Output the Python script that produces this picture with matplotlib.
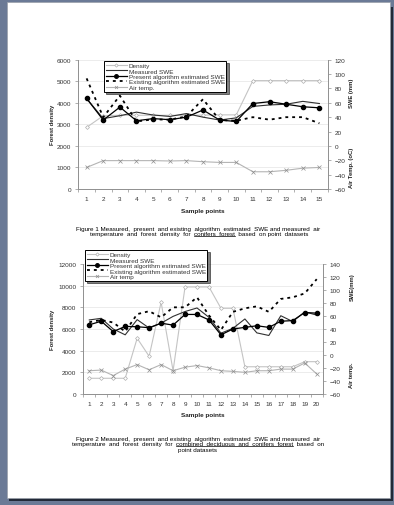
import matplotlib
matplotlib.use("Agg")
import matplotlib.pyplot as plt
from matplotlib.patches import Rectangle
from matplotlib.lines import Line2D
from matplotlib.ticker import MultipleLocator

plt.rcParams['font.family'] = ['Liberation Sans', 'DejaVu Sans']

W, H = 394, 506

# ---------- Figure 1 data (conifers forest) ----------
pts1 = list(range(1, 16))
density1 = [2860, 3400, 3420, 3420, 3420, 3420, 3420, 3430, 3440, 3440, 5030, 5030, 5030, 5030, 5030]
measured1 = [66, 38, 42, 47, 43, 41, 45, 40, 36, 39, 55, 57, 58, 62, 59]
present1 = [66, 36, 54, 35, 38, 36.5, 40, 50, 36, 34, 59, 61.5, 58, 54.5, 53]
existing1 = [94, 40, 70, 34, 37, 36.5, 41, 65, 36, 35, 40, 36.5, 40, 40, 31.5]
airtemp1 = [-30, -20.5, -20.5, -20.5, -20.5, -21, -20.5, -22, -23, -23, -36, -36, -34, -31, -30]

# ---------- Figure 2 data (combined deciduous and conifers forest) ----------
pts2 = list(range(1, 21))
density2 = [1430, 1430, 1430, 1430, 5140, 3470, 8480, 2130, 9900, 9900,
            9900, 7920, 7920, 2500, 2500, 2500, 2500, 2500, 2970, 2970]
measured2 = [54, 56.5, 40, 31, 54.5, 41.5, 49, 59.5, 67, 72.5,
             58, 33.5, 41, 55.5, 34, 30, 60.5, 51.5, 66.5, 61.5]
present2 = [46.5, 52, 36, 44, 43.5, 42, 49, 46, 62.5, 62.5,
            54, 31, 40, 42.5, 45, 42.5, 52, 53, 65.5, 64.5]
existing2 = [50.5, 54, 50, 36, 63, 67.5, 58, 73.5, 73.5, 89,
             61, 38.5, 66.5, 72, 75, 66.5, 86.5, 89, 95, 117]
airtemp2 = [-24.5, -23.5, -32, -22, -15, -23, -15, -24.5, -19, -16.5,
            -20, -24.5, -25.5, -27, -24.5, -24.5, -22, -22, -12.5, -29.5]

labels = ["Density", "Measured SWE", "Present algorithm estimated SWE",
          "Existing algorithm estimated SWE", "Air temp."]


def fx(x):
    return x / W


def fy(y):
    return 1 - y / H


def draw_chart(fig, rect, pts, density, measured, present, existing, airtemp,
               left_max, left_step, right_max, leg_anchor, leg_labels):
    ax = fig.add_axes(rect)
    ax2 = ax.twinx()

    l_den, = ax.plot(pts, density, color="#c4c4c4", lw=0.8, marker="D", ms=2,
                     mfc="white", mec="#b0b0b0", mew=0.5)
    l_mea, = ax2.plot(pts, measured, color="#303030", lw=0.8)
    l_pre, = ax2.plot(pts, present, color="black", lw=0.9, marker="o", ms=3.0)
    l_exi, = ax2.plot(pts, existing, color="black", lw=1.3, ls=(0, (1.6, 2.2)))
    l_air, = ax2.plot(pts, airtemp, color="#b4b4b4", lw=0.8, marker="x", ms=2.5,
                      mec="#909090", mew=0.5)

    n = len(pts)
    ax.set_xlim(0.5, n + 0.5)
    ax.set_ylim(0, left_max)
    ax2.set_ylim(-60, right_max)
    ax.yaxis.set_major_locator(MultipleLocator(left_step))
    ax2.yaxis.set_major_locator(MultipleLocator(20))
    ax.set_xticks(pts)
    ax.set_xticks([p + 0.5 for p in [0] + pts], minor=True)
    ax.grid(axis="y", color="#e4e4e4", lw=0.5)
    ax.set_axisbelow(True)

    for a in (ax, ax2):
        a.tick_params(labelsize=4.6, colors="#909090", labelcolor="#333333",
                      length=2, width=0.5, pad=3)
        for s in a.spines.values():
            s.set_color("#909090")
            s.set_linewidth(0.6)
        a.spines["top"].set_visible(False)
    ax.tick_params(axis="x", which="major", length=0, pad=5)
    ax.tick_params(axis="x", which="minor", length=2, width=0.5, colors="#909090")

    leg = ax2.legend([l_den, l_mea, l_pre, l_exi, l_air], leg_labels,
                     loc="upper left", bbox_to_anchor=leg_anchor, fontsize=4.6,
                     frameon=True, fancybox=False, shadow={"color": "black", "ox": 1.5, "oy": -1.5},
                     borderpad=0.25, labelspacing=0.0, handlelength=3.3,
                     handletextpad=0.3, borderaxespad=0, markerscale=0.85)
    leg.get_frame().set_edgecolor("black")
    leg.get_frame().set_linewidth(0.7)
    for t in leg.get_texts():
        t.set_color("#333333")
    return ax, ax2


def underline(fig, txt, prefix, word):
    r = fig.canvas.get_renderer()
    bb = txt.get_window_extent(r)
    tmp = fig.text(0, 0, prefix, fontsize=txt.get_fontsize(), fontweight=txt.get_fontweight())
    w0 = tmp.get_window_extent(r).width
    tmp.set_text(prefix + word)
    w1 = tmp.get_window_extent(r).width
    tmp.remove()
    y = bb.y0 + 0.6
    fw, fh = fig.bbox.width, fig.bbox.height
    fig.add_artist(Line2D([(bb.x0 + w0) / fw, (bb.x0 + w1) / fw], [y / fh, y / fh],
                          color="black", lw=0.5))


fig = plt.figure(figsize=(W / 100, H / 100), dpi=100)
fig.patch.set_facecolor("#6b7a96")

# page with shadow (kept under the axes)
fig.add_artist(Rectangle((fx(9), fy(502)), fx(384), 494 / H, color="#222a38", lw=0, zorder=-10))
fig.add_artist(Rectangle((fx(7), fy(499)), fx(383), 496 / H, facecolor="white",
                         edgecolor="#9aa0aa", lw=0.5, zorder=-9))

CAP = 4.5

# ---------- chart 1 ----------
draw_chart(fig, [fx(78.3), fy(190), fx(249.4), 129.3 / H], pts1,
           density1, measured1, present1, existing1, airtemp1,
           6000, 1000, 120, (0.103, 0.99), labels)
fig.text(fx(53), fy(125), "Forest density", rotation=90, fontsize=4.2,
         fontweight="bold", ha="center", va="center", color="#222222")
fig.text(fx(352), fy(93), "SWE (mm)", rotation=90, fontsize=4.2,
         fontweight="bold", ha="center", va="center", color="#222222")
fig.text(fx(352), fy(168), "Air Temp. (oC)", rotation=90, fontsize=4.2,
         fontweight="bold", ha="center", va="center", color="#222222")
fig.text(fx(203), fy(211), "Sample points", fontsize=4.6, fontweight="bold",
         ha="center", va="center", color="#222222")

fig.text(fx(198), fy(229), "Figure 1 Measured,  present  and existing  algorithm  estimated  SWE and measured  air",
         fontsize=CAP, ha="center", va="center")
cap1b = fig.text(fx(199), fy(235), "temperature  and  forest  density  for  conifers  forest  based  on point  datasets",
                 fontsize=CAP, ha="center", va="center")

# ---------- chart 2 ----------
draw_chart(fig, [fx(83.3), fy(394.7), fx(239.4), 129.4 / H], pts2,
           density2, measured2, present2, existing2, airtemp2,
           12000, 2000, 140, (0.007, 1.11), labels[:4] + ["Air temp"])
fig.text(fx(53), fy(330), "Forest density", rotation=90, fontsize=4.2,
         fontweight="bold", ha="center", va="center", color="#222222")
fig.text(fx(352), fy(287), "SWE(mm)", rotation=90, fontsize=4.2,
         fontweight="bold", ha="center", va="center", color="#222222")
fig.text(fx(352), fy(375), "Air temp.", rotation=90, fontsize=4.2,
         fontweight="bold", ha="center", va="center", color="#222222")
fig.text(fx(203), fy(415), "Sample points", fontsize=4.6, fontweight="bold",
         ha="center", va="center", color="#222222")

fig.text(fx(198), fy(439.5), "Figure 2 Measured,  present  and existing  algorithm  estimated  SWE and measured  air",
         fontsize=CAP, ha="center", va="center")
cap2b = fig.text(fx(198), fy(445), "temperature  and  forest  density  for  combined  deciduous  and  conifers  forest  based  on",
                 fontsize=CAP, ha="center", va="center")
fig.text(fx(197), fy(450.5), "point datasets", fontsize=CAP, ha="center", va="center")

fig.canvas.draw()
underline(fig, cap1b, "temperature  and  forest  density  for  ", "conifers  forest")
underline(fig, cap2b, "temperature  and  forest  density  for  ",
          "combined  deciduous  and  conifers  forest")

fig.savefig("out.png", dpi=100, facecolor=fig.get_facecolor())
